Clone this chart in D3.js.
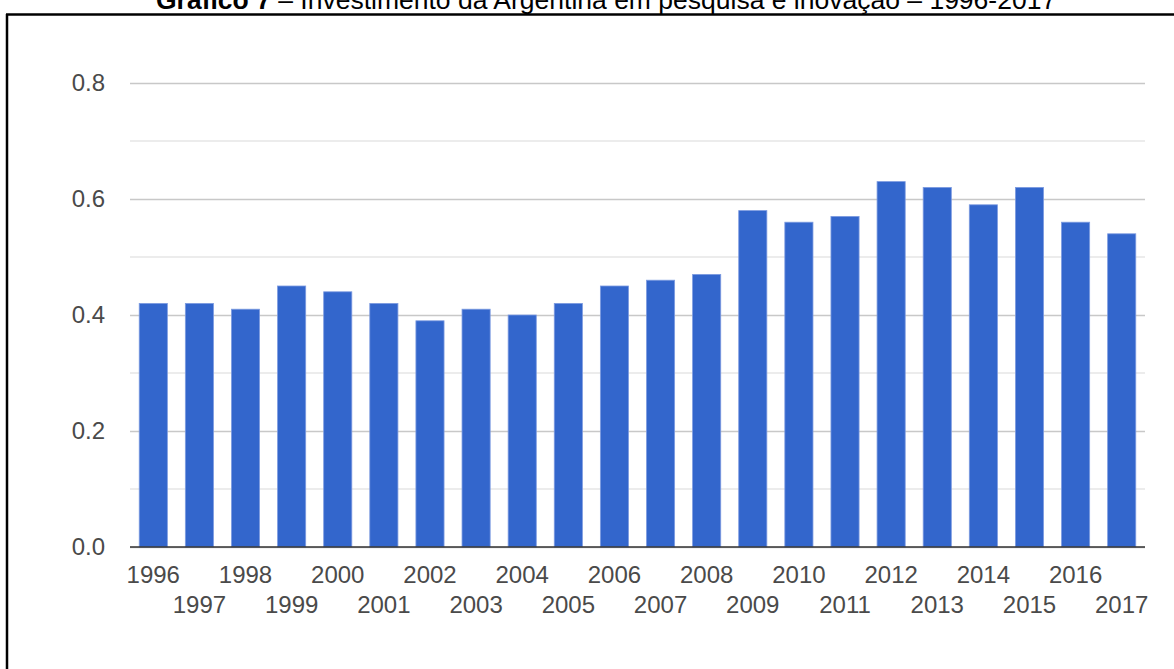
<!DOCTYPE html>
<html>
<head>
<meta charset="utf-8">
<script src="https://cdn.jsdelivr.net/npm/d3@7"></script>
<style>
  html, body { margin: 0; padding: 0; background: #fff; }
  svg { display: block; font-family: "Liberation Sans", Arial, sans-serif; }
</style>
</head>
<body>
<div id="chart"></div>
<script>
var years = ["1996", "1997", "1998", "1999", "2000", "2001", "2002", "2003", "2004", "2005", "2006",
    "2007", "2008", "2009", "2010", "2011", "2012", "2013", "2014", "2015", "2016", "2017"];
var investment = [0.42, 0.42, 0.41, 0.45, 0.44, 0.42, 0.39, 0.41, 0.40, 0.42, 0.45,
    0.46, 0.47, 0.58, 0.56, 0.57, 0.63, 0.62, 0.59, 0.62, 0.56, 0.54];
var yTicks = [0, 0.2, 0.4, 0.6, 0.8];
var yMinorTicks = [0.1, 0.3, 0.5, 0.7];
var titleBold = "Gráfico 7";
var titleRest = " – Investimento da Argentina em pesquisa e inovação – 1996-2017";

var width = 1174, height = 669;
var margin = {top: 83, right: 29, bottom: 122, left: 130};

var svg = d3.select("#chart")
    .append("svg")
    .attr("width", width)
    .attr("height", height);

// frame (only top and left edges show)
svg.append("line")
    .attr("x1", 6).attr("x2", width)
    .attr("y1", 14.5).attr("y2", 14.5)
    .attr("stroke", "#000")
    .attr("stroke-width", 2.5);
svg.append("line")
    .attr("x1", 7).attr("x2", 7)
    .attr("y1", 14).attr("y2", height)
    .attr("stroke", "#000")
    .attr("stroke-width", 2.5);

// title, cut by the top edge like in the source
var title = svg.append("text")
    .attr("x", 156)
    .attr("y", 9)
    .attr("font-size", "26.5px")
    .attr("fill", "#000");
title.append("tspan").attr("font-weight", "bold").text(titleBold);
title.append("tspan").text(titleRest);

var x = d3.scaleBand()
    .domain(years)
    .range([margin.left, width - margin.right])
    .paddingInner(0.39)
    .paddingOuter(0.2);

var y = d3.scaleLinear()
    .domain([0, 0.8])
    .range([height - margin.bottom, margin.top]);

// minor gridlines
svg.append("g")
    .selectAll("line")
    .data(yMinorTicks)
    .enter()
    .append("line")
    .attr("x1", margin.left).attr("x2", width - margin.right)
    .attr("y1", function (d) { return y(d); })
    .attr("y2", function (d) { return y(d); })
    .attr("stroke", "#e6e6e6")
    .attr("stroke-width", 1.5);

// major gridlines + labels
var yAxis = d3.axisLeft(y)
    .tickValues(yTicks)
    .tickFormat(d3.format(".1f"))
    .tickSize(-(width - margin.left - margin.right))
    .tickPadding(25);

var gy = svg.append("g")
    .attr("transform", "translate(" + margin.left + ",0)")
    .call(yAxis);
gy.select(".domain").remove();
gy.selectAll(".tick line")
    .attr("stroke", "#c8c8c8")
    .attr("stroke-width", 1.5);
gy.selectAll(".tick text")
    .attr("fill", "#4a4a4a")
    .attr("font-size", "24px")
    .attr("font-family", "Liberation Sans, Arial, sans-serif");

// bars
svg.append("g")
    .selectAll("rect")
    .data(investment)
    .enter()
    .append("rect")
    .attr("x", function (d, i) { return x(years[i]); })
    .attr("y", function (d) { return y(d); })
    .attr("width", x.bandwidth())
    .attr("height", function (d) { return y(0) - y(d); })
    .attr("fill", "#3366cc")
    .attr("stroke", "#7d9be0")
    .attr("stroke-width", 0.8);

// baseline
svg.append("line")
    .attr("x1", margin.left).attr("x2", width - margin.right)
    .attr("y1", y(0)).attr("y2", y(0))
    .attr("stroke", "#333")
    .attr("stroke-width", 1.5);

// x labels, staggered on two rows
svg.append("g")
    .selectAll("text")
    .data(years)
    .enter()
    .append("text")
    .attr("x", function (d) { return x(d) + x.bandwidth() / 2; })
    .attr("y", function (d, i) { return i % 2 == 0 ? 583 : 613; })
    .attr("text-anchor", "middle")
    .attr("fill", "#4a4a4a")
    .attr("font-size", "24px")
    .text(function (d) { return d; });
</script>
</body>
</html>
